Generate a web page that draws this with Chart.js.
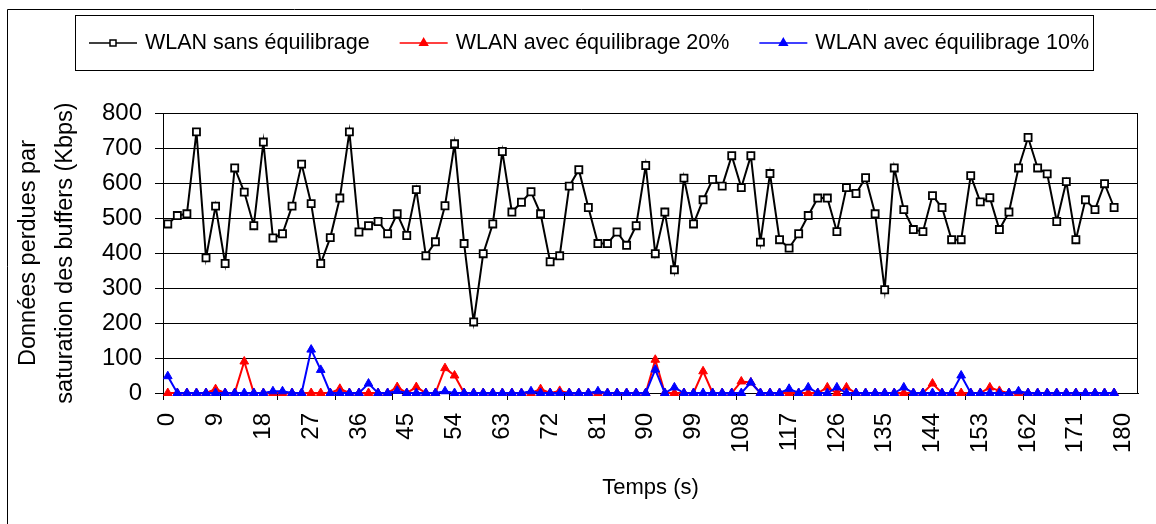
<!DOCTYPE html>
<html lang="fr">
<head>
<meta charset="utf-8">
<title>Données perdues par saturation des buffers</title>
<script src="https://cdn.jsdelivr.net/npm/chart.js@4.4.1/dist/chart.umd.min.js"></script>
<style>
    html, body { margin: 0; padding: 0; background: #fff; }
    #wrap { width: 1156px; height: 524px; }
</style>
</head>
<body>
<div id="wrap"><canvas id="chart" width="1156" height="524"></canvas></div>
<script>
/* global Chart */
// Axe des temps : une catégorie toutes les 1,8 s, étiquette toutes les 9 s
const pasTemps = 1.8;
const nbCategories = 102;
const etiquettesTemps = ['0', '9', '18', '27', '36', '45', '54', '63', '72', '81', '90',
    '99', '108', '117', '126', '135', '144', '153', '162', '171', '180'];

// Données perdues (Kbps)
const sansEquilibrage = [
    483, 507, 512, 746, 386, 534, 370, 643, 574, 478,
    717, 443, 455, 534, 654, 541, 370, 444, 557, 746,
    460, 478, 490, 455, 512, 450, 581, 392, 432, 535,
    712, 427, 203, 398, 483, 690, 517, 545, 575, 512,
    375, 392, 591, 638, 530, 427, 427, 460, 422, 478,
    650, 398, 517, 352, 614, 483, 552, 610, 591, 678,
    587, 678, 431, 627, 438, 414, 455, 507, 557, 557,
    461, 587, 570, 615, 512, 295, 643, 524, 467, 461,
    564, 530, 438, 438, 621, 546, 558, 467, 517, 643,
    730, 643, 626, 490, 604, 438, 552, 524, 598, 530
];

const avecEquilibrage20 = [
    0, 0, 0, 0, 0, 11, 0, 0, 90, 0,
    0, 0, 0, 0, 0, 0, 0, 0, 12, 0,
    0, 0, 0, 0, 17, 0, 17, 0, 0, 71,
    50, 0, 0, 0, 0, 0, 0, 0, 0, 11,
    0, 6, 0, 0, 0, 0, 0, 0, 0, 0,
    0, 95, 0, 0, 0, 0, 62, 0, 0, 0,
    33, 30, 0, 0, 0, 0, 0, 0, 0, 16,
    0, 16, 0, 0, 0, 0, 0, 0, 0, 0,
    27, 0, 0, 0, 0, 0, 16, 6, 0, 0,
    0, 0, 0, 0, 0, 0, 0, 0, 0, 0
];

const avecEquilibrage10 = [
    48, 0, 0, 0, 0, 0, 0, 0, 0, 0,
    0, 5, 5, 0, 0, 124, 66, 0, 0, 0,
    0, 27, 0, 0, 6, 0, 0, 0, 0, 5,
    0, 0, 0, 0, 0, 0, 0, 0, 5, 0,
    0, 0, 0, 0, 0, 5, 0, 0, 0, 0,
    0, 67, 0, 16, 0, 0, 0, 0, 0, 0,
    0, 30, 0, 0, 0, 12, 0, 16, 0, 0,
    16, 0, 0, 0, 0, 0, 0, 16, 0, 0,
    0, 0, 0, 50, 0, 0, 0, 0, 0, 5,
    0, 0, 0, 0, 0, 0, 0, 0, 0, 0
];

const FONT = "'Liberation Sans', Arial, sans-serif";
Chart.defaults.font.family = FONT;
Chart.defaults.color = '#000';

const temps = [];
for (let i = 0; i < nbCategories; i++) temps.push((Math.round(i * pasTemps * 10) / 10).toString());

function marqueur(ctx, ds, x, y, r) {
    ctx.save();
    ctx.lineWidth = 1.5;
    ctx.strokeStyle = ds.pointBorderColor;
    ctx.fillStyle = ds.pointBackgroundColor;
    ctx.beginPath();
    if (ds.pointStyle === 'rect') {
        ctx.rect(x - r, y - r, 2 * r, 2 * r);
    } else {
        ctx.moveTo(x, y - r);
        ctx.lineTo(x + r * 0.866, y + r / 2);
        ctx.lineTo(x - r * 0.866, y + r / 2);
        ctx.closePath();
    }
    ctx.fill();
    ctx.stroke();
    ctx.restore();
}

// Cadre du graphique, bord droit de la zone de tracé et légende encadrée
const cadre = {
    id: 'cadre',
    beforeDraw(chart) {
        const ctx = chart.ctx;
        ctx.save();
        ctx.fillStyle = '#fff';
        ctx.fillRect(0, 0, chart.width, chart.height);
        ctx.restore();
    },
    beforeDatasetsDraw(chart) {
        const { ctx, chartArea } = chart;
        ctx.save();
        ctx.strokeStyle = '#000';
        ctx.lineWidth = 1;
        ctx.beginPath();
        ctx.moveTo(Math.round(chartArea.right) - 0.5, chartArea.top);
        ctx.lineTo(Math.round(chartArea.right) - 0.5, chartArea.bottom);
        ctx.stroke();
        ctx.restore();
    },
    afterDraw(chart) {
        const ctx = chart.ctx;
        ctx.save();
        ctx.strokeStyle = '#000';
        ctx.lineWidth = 1;
        ctx.beginPath();
        ctx.moveTo(7.5, chart.height);
        ctx.lineTo(7.5, 9.5);
        ctx.lineTo(chart.width, 9.5);
        ctx.stroke();

        ctx.strokeRect(75.5, 15.5, 1018, 55);
        ctx.font = '21.5px ' + FONT;
        ctx.textBaseline = 'middle';
        let x = 89;
        const y = 43;
        chart.data.datasets.forEach(ds => {
            ctx.strokeStyle = ds.borderColor;
            ctx.lineWidth = 1.5;
            ctx.beginPath();
            ctx.moveTo(x, y);
            ctx.lineTo(x + 48, y);
            ctx.stroke();
            marqueur(ctx, ds, x + 24, y, ds.pointStyle === 'rect' ? 3 : 4.5);
            ctx.fillStyle = '#000';
            ctx.fillText(ds.label, x + 56, y);
            x += 56 + ctx.measureText(ds.label).width + 30;
        });
        ctx.restore();
    }
};

function serie(label, data, color, style, order) {
    return {
        label,
        data,
        borderColor: color,
        backgroundColor: color,
        borderWidth: 2,
        pointStyle: style,
        pointRadius: 5,
        pointBorderWidth: style === 'rect' ? 1.8 : 1,
        pointBorderColor: color,
        pointBackgroundColor: style === 'rect' ? '#fff' : color,
        tension: 0,
        clip: false,
        order
    };
}

new Chart(document.getElementById('chart').getContext('2d'), {
    type: 'line',
    data: {
        labels: temps,
        datasets: [
            serie('WLAN sans équilibrage', sansEquilibrage, '#000', 'rect', 2),
            serie('WLAN avec équilibrage 20%', avecEquilibrage20, '#f00', 'triangle', 1),
            serie('WLAN avec équilibrage 10%', avecEquilibrage10, '#00f', 'triangle', 0)
        ]
    },
    options: {
        responsive: false,
        animation: false,
        layout: { padding: { left: 0, top: 113, right: 18, bottom: 0 } },
        plugins: {
            legend: { display: false },
            tooltip: { enabled: false }
        },
        scales: {
            x: {
                type: 'category',
                offset: true,
                grid: {
                    offset: true,
                    drawOnChartArea: false,
                    tickLength: 7,
                    lineWidth: 1,
                    color: c => (c.index % 6 === 0 ? '#000' : 'rgba(0,0,0,0)')
                },
                border: { display: true, color: '#000', width: 1 },
                ticks: {
                    autoSkip: false,
                    minRotation: 90,
                    maxRotation: 90,
                    padding: 13,
                    color: '#000',
                    font: { size: 24 },
                    callback: (v, i) => (i % 5 === 0 ? etiquettesTemps[i / 5] : '')
                },
                title: {
                    display: true,
                    text: 'Temps (s)',
                    color: '#000',
                    font: { size: 22 },
                    padding: { top: 0, bottom: 23 }
                },
                afterFit: s => {
                    s.height = 131;
                    s.paddingLeft = 0;
                    s.paddingRight = 0;
                }
            },
            y: {
                min: 0,
                max: 800,
                ticks: { stepSize: 100, padding: 13, color: '#000', font: { size: 24 } },
                grid: { color: '#000', lineWidth: 1, tickLength: 8 },
                border: { display: true, color: '#000', width: 1 },
                title: {
                    display: true,
                    text: ['Données perdues par', 'saturation des buffers (Kbps)'],
                    color: '#000',
                    font: { size: 23.5, lineHeight: 1.56 },
                    padding: { top: 10.5, bottom: 0 }
                },
                afterFit: s => { s.width = 163; }
            }
        }
    },
    plugins: [cadre]
});
</script>
</body>
</html>
